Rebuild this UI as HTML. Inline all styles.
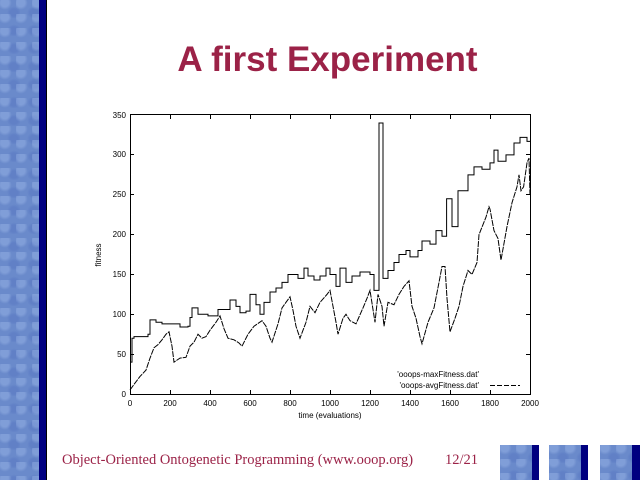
<!DOCTYPE html>
<html><head><meta charset="utf-8"><style>
body{margin:0;width:640px;height:480px;background:#fff;position:relative;overflow:hidden;font-family:"Liberation Sans",sans-serif}
.tex{background:#6a8acb;background-image:radial-gradient(ellipse at 30% 20%,rgba(170,195,240,.35) 0 4px,transparent 7px),radial-gradient(ellipse at 70% 70%,rgba(80,110,190,.35) 0 4px,transparent 7px);background-size:16px 14px,20px 18px}
</style></head><body>
<div class="tex" style="position:absolute;left:0;top:0;width:39px;height:480px"></div>
<div style="position:absolute;left:39px;top:0;width:7px;height:480px;background:#000080"></div>
<div style="position:absolute;left:46px;top:0;width:1px;height:480px;background:#000"></div>
<div style="position:absolute;left:0;top:40px;width:655px;text-align:center;font-weight:bold;font-size:35px;color:#9b2247">A first Experiment</div>
<div style="position:absolute;left:62px;top:452px;font-family:'Liberation Serif',serif;font-size:14.5px;color:#9b2247">Object-Oriented Ontogenetic Programming (www.ooop.org)</div>
<div style="position:absolute;left:445px;top:452px;font-family:'Liberation Serif',serif;font-size:14.5px;color:#9b2247">12/21</div>
<div class="tex" style="position:absolute;left:500px;top:445px;width:32px;height:35px"></div><div style="position:absolute;left:532px;top:445px;width:7px;height:35px;background:#000080"></div>
<div class="tex" style="position:absolute;left:549px;top:445px;width:32px;height:35px"></div><div style="position:absolute;left:581px;top:445px;width:7px;height:35px;background:#000080"></div>
<div class="tex" style="position:absolute;left:600px;top:445px;width:32px;height:35px"></div><div style="position:absolute;left:632px;top:445px;width:8px;height:35px;background:#000080"></div>
<svg style="position:absolute;left:0;top:0" width="640" height="480" font-family="Liberation Sans,sans-serif" font-size="8">
<rect x="130.5" y="114.5" width="400" height="280" fill="none" stroke="#000"/>
<g stroke="#000">
<line x1="170.5" y1="394" x2="170.5" y2="390"/><line x1="210.5" y1="394" x2="210.5" y2="390"/><line x1="250.5" y1="394" x2="250.5" y2="390"/><line x1="290.5" y1="394" x2="290.5" y2="390"/><line x1="330.5" y1="394" x2="330.5" y2="390"/><line x1="370.5" y1="394" x2="370.5" y2="390"/><line x1="410.5" y1="394" x2="410.5" y2="390"/><line x1="450.5" y1="394" x2="450.5" y2="390"/><line x1="490.5" y1="394" x2="490.5" y2="390"/>
<line x1="170.5" y1="115" x2="170.5" y2="119"/><line x1="210.5" y1="115" x2="210.5" y2="119"/><line x1="250.5" y1="115" x2="250.5" y2="119"/><line x1="290.5" y1="115" x2="290.5" y2="119"/><line x1="330.5" y1="115" x2="330.5" y2="119"/><line x1="370.5" y1="115" x2="370.5" y2="119"/><line x1="410.5" y1="115" x2="410.5" y2="119"/><line x1="450.5" y1="115" x2="450.5" y2="119"/><line x1="490.5" y1="115" x2="490.5" y2="119"/>
<line x1="130" y1="354.5" x2="134" y2="354.5"/><line x1="130" y1="314.5" x2="134" y2="314.5"/><line x1="130" y1="274.5" x2="134" y2="274.5"/><line x1="130" y1="234.5" x2="134" y2="234.5"/><line x1="130" y1="194.5" x2="134" y2="194.5"/><line x1="130" y1="154.5" x2="134" y2="154.5"/>
<line x1="530" y1="354.5" x2="526" y2="354.5"/><line x1="530" y1="314.5" x2="526" y2="314.5"/><line x1="530" y1="274.5" x2="526" y2="274.5"/><line x1="530" y1="234.5" x2="526" y2="234.5"/><line x1="530" y1="194.5" x2="526" y2="194.5"/><line x1="530" y1="154.5" x2="526" y2="154.5"/>
</g>
<g text-anchor="end"><text x="126" y="397">0</text><text x="126" y="357">50</text><text x="126" y="317">100</text><text x="126" y="277">150</text><text x="126" y="237">200</text><text x="126" y="197">250</text><text x="126" y="157">300</text><text x="126" y="118">350</text></g>
<g text-anchor="middle"><text x="130" y="406">0</text><text x="170" y="406">200</text><text x="210" y="406">400</text><text x="250" y="406">600</text><text x="290" y="406">800</text><text x="330" y="406">1000</text><text x="370" y="406">1200</text><text x="410" y="406">1400</text><text x="450" y="406">1600</text><text x="490" y="406">1800</text><text x="530" y="406">2000</text>
<text x="330" y="418">time (evaluations)</text></g>
<text transform="translate(101,255) rotate(-90)" text-anchor="middle">fitness</text>
<text x="479" y="377" text-anchor="end">'ooops-maxFitness.dat'</text>
<text x="479" y="388" text-anchor="end">'ooops-avgFitness.dat'</text>
<line x1="490" y1="385.5" x2="520" y2="385.5" stroke="#000" stroke-dasharray="5,2"/>
<g transform="translate(130,394) scale(0.2,-0.797)" fill="none" stroke="#000">
<polyline vector-effect="non-scaling-stroke" points="0,40 10,40 10,70 20,70 20,72 90,72 90,75 100,75 100,93 130,93 130,90 160,90 160,88 250,88 250,84 290,84 290,85 300,85 300,96 310,96 310,108 340,108 340,100 390,100 390,98 440,98 440,106 500,106 500,118 530,118 530,110 550,110 550,102 580,102 580,104 600,104 600,125 630,125 630,112 650,112 650,100 670,100 670,115 700,115 700,128 730,128 730,133 760,133 760,140 790,140 790,150 840,150 840,145 870,145 870,158 890,158 890,148 920,148 920,143 950,143 950,148 980,148 980,158 1000,158 1000,150 1030,150 1030,135 1050,135 1050,158 1080,158 1080,140 1110,140 1110,148 1150,148 1150,153 1200,153 1200,150 1220,150 1220,130 1245,130 1245,202 1245,340 1265,340 1265,265 1265,145 1290,145 1290,155 1320,155 1320,165 1345,165 1345,175 1380,175 1380,180 1400,180 1400,172 1440,172 1440,180 1460,180 1460,192 1500,192 1500,188 1530,188 1530,205 1560,205 1560,198 1583,198 1583,245 1610,245 1610,210 1640,210 1640,255 1690,255 1690,275 1720,275 1720,285 1760,285 1760,282 1800,282 1800,290 1820,290 1820,306 1840,306 1840,292 1880,292 1880,300 1920,300 1920,315 1950,315 1950,322 1985,322 1985,317 2000,317"/>
<polyline vector-effect="non-scaling-stroke" stroke-dasharray="6,1" points="0,5 20,12 50,22 80,30 100,45 120,58 140,62 160,68 180,75 195,78 210,60 220,40 250,45 280,46 300,60 320,65 340,75 360,70 380,72 400,80 430,90 450,98 470,82 490,70 520,68 545,64 560,60 590,75 620,85 660,92 680,85 700,70 710,65 740,88 760,108 780,115 800,122 815,105 830,85 850,70 880,90 900,110 925,102 950,115 985,125 1000,130 1015,110 1030,90 1040,75 1065,95 1080,100 1100,92 1130,88 1165,108 1185,120 1200,130 1225,90 1240,125 1260,110 1270,85 1290,115 1320,112 1345,125 1370,135 1395,142 1410,110 1430,95 1450,72 1460,63 1490,90 1520,108 1545,140 1560,160 1575,160 1585,120 1600,78 1625,95 1645,110 1665,135 1690,155 1710,150 1735,165 1745,200 1780,222 1795,235 1800,232 1820,205 1840,195 1855,168 1885,210 1910,240 1935,260 1945,275 1955,255 1968,260 1985,290 1995,296 2000,250"/>
</g>
</svg>
</body></html>
